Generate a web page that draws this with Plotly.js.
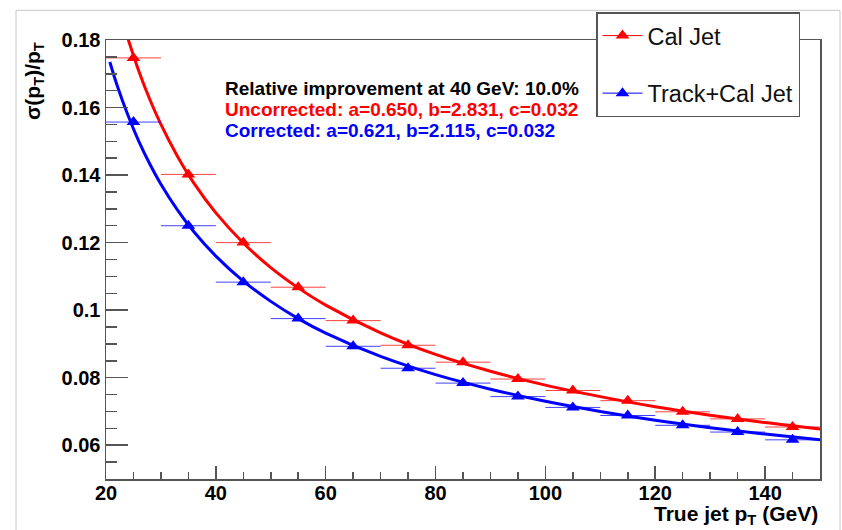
<!DOCTYPE html>
<html>
<head>
<meta charset="utf-8">
<script src="https://cdn.plot.ly/plotly-3.0.1.min.js"></script>
<style>html,body{margin:0;padding:0;background:#fff;}</style>
</head>
<body>
<div id="chart" style="width:842px;height:530px;"></div>
<script>
// Bin centres (GeV) and measured resolution
var ptBins = [25, 35, 45, 55, 65, 75, 85, 95, 105, 115, 125, 135, 145];
var binHalfWidth = [5, 5, 5, 5, 5, 5, 5, 5, 5, 5, 5, 5, 5];
var calJet = [0.1747, 0.1402, 0.1200, 0.1068, 0.0969, 0.0896, 0.0846, 0.0796, 0.0762, 0.0732, 0.0699, 0.0678, 0.0654];
var trackCalJet = [0.1557, 0.1250, 0.1083, 0.0975, 0.0893, 0.0828, 0.0784, 0.0744, 0.0712, 0.0688, 0.0659, 0.0639, 0.0616];

// Fit curves, values
var fitXRed = [23.5, 24, 26, 28, 30, 33, 36, 40, 45, 50, 55, 60, 70, 80, 90, 100, 110, 120, 130, 140, 150];
var fitRed = [0.1831, 0.1804, 0.1707, 0.1623, 0.1550, 0.1456, 0.1376, 0.1288, 0.1199, 0.1126, 0.1066, 0.1015, 0.0933, 0.0869, 0.0819, 0.0778, 0.0744, 0.0714, 0.0689, 0.0667, 0.0648];
var fitXBlue = [20.7, 22, 24, 26, 28, 30, 33, 36, 40, 45, 50, 55, 60, 70, 80, 90, 100, 110, 120, 130, 140, 150];
var fitBlue = [0.1735, 0.1667, 0.1577, 0.1499, 0.1432, 0.1373, 0.1297, 0.1232, 0.1160, 0.1086, 0.1026, 0.0975, 0.0932, 0.0863, 0.0809, 0.0766, 0.0730, 0.0700, 0.0674, 0.0652, 0.0633, 0.0616];

var legendNames = ['Cal Jet', 'Track+Cal Jet'];
var infoLines = [
  'Relative improvement at 40 GeV: 10.0%',
  'Uncorrected: a=0.650, b=2.831, c=0.032',
  'Corrected: a=0.621, b=2.115, c=0.032'
];

var RED = '#ff0000', BLUE = '#0000ff', AX = '#555555';
var F = 'Liberation Sans, Arial, Helvetica, sans-serif';

var traces = [
  {x: fitXRed, y: fitRed, type: 'scatter', mode: 'lines', showlegend: false,
   line: {color: RED, width: 3, shape: 'spline'}},
  {x: fitXBlue, y: fitBlue, type: 'scatter', mode: 'lines', showlegend: false,
   line: {color: BLUE, width: 3, shape: 'spline'}},
  {x: ptBins, y: calJet, type: 'scatter', mode: 'markers', showlegend: false, cliponaxis: true,
   marker: {symbol: 'triangle-up', size: 12, color: RED},
   error_x: {type: 'data', array: binHalfWidth, thickness: 1, width: 0, color: 'rgba(255,0,0,0.75)'}},
  {x: ptBins, y: trackCalJet, type: 'scatter', mode: 'markers', showlegend: false, cliponaxis: true,
   marker: {symbol: 'triangle-up', size: 12, color: BLUE},
   error_x: {type: 'data', array: binHalfWidth, thickness: 1, width: 0, color: 'rgba(0,0,255,0.75)'}},
  // legend proxies
  {x: [null], y: [null], type: 'scatter', mode: 'lines+markers', name: legendNames[0], legendgroup: 'a',
   line: {color: RED, width: 1}, marker: {symbol: 'triangle-up', size: 12, color: RED}},
  {x: [null], y: [null], type: 'scatter', mode: 'lines+markers', name: legendNames[1], legendgroup: 'b',
   line: {color: BLUE, width: 1}, marker: {symbol: 'triangle-up', size: 12, color: BLUE}}
];

var L = 106, R = 22, T = 35, B = 51, W = 842, H = 530;
var pw = W - L - R, ph = H - T - B;
function px(xp) { return (xp - L) / pw; }
function py(yp) { return (H - B - yp) / ph; }

var axisCommon = {
  showline: true, linecolor: AX, linewidth: 1.5, mirror: true,
  ticks: 'inside', tickcolor: AX, tickwidth: 1.5,
  showgrid: false, zeroline: false,
  tickfont: {family: F, size: 20, color: '#000', weight: 'bold'}
};

var layout = {
  width: W, height: H,
  margin: {l: L, r: R, t: T, b: B, pad: 0},
  paper_bgcolor: '#fff', plot_bgcolor: '#fff',
  font: {family: F},
  xaxis: Object.assign({}, axisCommon, {
    range: [20, 150], dtick: 20, tick0: 0, ticklen: 13, ticklabelstandoff: -5,
    minor: {dtick: 5, ticklen: 7, ticks: 'inside', tickcolor: AX, tickwidth: 1.5}
  }),
  yaxis: Object.assign({}, axisCommon, {
    range: [0.05, 0.18], dtick: 0.02, tick0: 0, ticklen: 22,
    minor: {dtick: 0.005, ticklen: 11, ticks: 'inside', tickcolor: AX, tickwidth: 1.5}
  }),
  showlegend: true,
  legend: {
    x: px(596), y: py(7), xanchor: 'left', yanchor: 'top',
    bgcolor: '#fff', bordercolor: AX, borderwidth: 1.5,
    font: {family: F, size: 23.5, color: '#111'},
    traceorder: 'grouped', tracegroupgap: 24, itemwidth: 40
  },
  shapes: [
    {type: 'rect', xref: 'paper', yref: 'paper', x0: px(16), x1: px(840), y0: py(545), y1: py(5),
     line: {color: '#c8c8c8', width: 1}, layer: 'below'}
  ],
  annotations: [
    {xref: 'paper', yref: 'paper', x: px(223), y: py(84), xanchor: 'left', yanchor: 'middle', showarrow: false,
     text: '<b>' + infoLines[0] + '</b>', font: {family: F, size: 19, color: '#000'}},
    {xref: 'paper', yref: 'paper', x: px(223), y: py(105), xanchor: 'left', yanchor: 'middle', showarrow: false,
     text: '<b>' + infoLines[1] + '</b>', font: {family: F, size: 19, color: RED}},
    {xref: 'paper', yref: 'paper', x: px(223), y: py(127), xanchor: 'left', yanchor: 'middle', showarrow: false,
     text: '<b>' + infoLines[2] + '</b>', font: {family: F, size: 19, color: BLUE}},
    {xref: 'paper', yref: 'paper', x: px(34), y: 1, xanchor: 'center', yanchor: 'top', showarrow: false,
     textangle: -90, text: '<b>σ(p<sub>T</sub>)/p<sub>T</sub></b>', font: {family: F, size: 21, color: '#000'}},
    {xref: 'paper', yref: 'paper', x: px(820), y: py(515), xanchor: 'right', yanchor: 'middle', showarrow: false,
     text: '<b>True jet p<sub>T</sub> (GeV)</b>', font: {family: F, size: 21, color: '#000'}}
  ]
};

Plotly.newPlot('chart', traces, layout, {displayModeBar: false, staticPlot: true});
</script>
</body>
</html>
